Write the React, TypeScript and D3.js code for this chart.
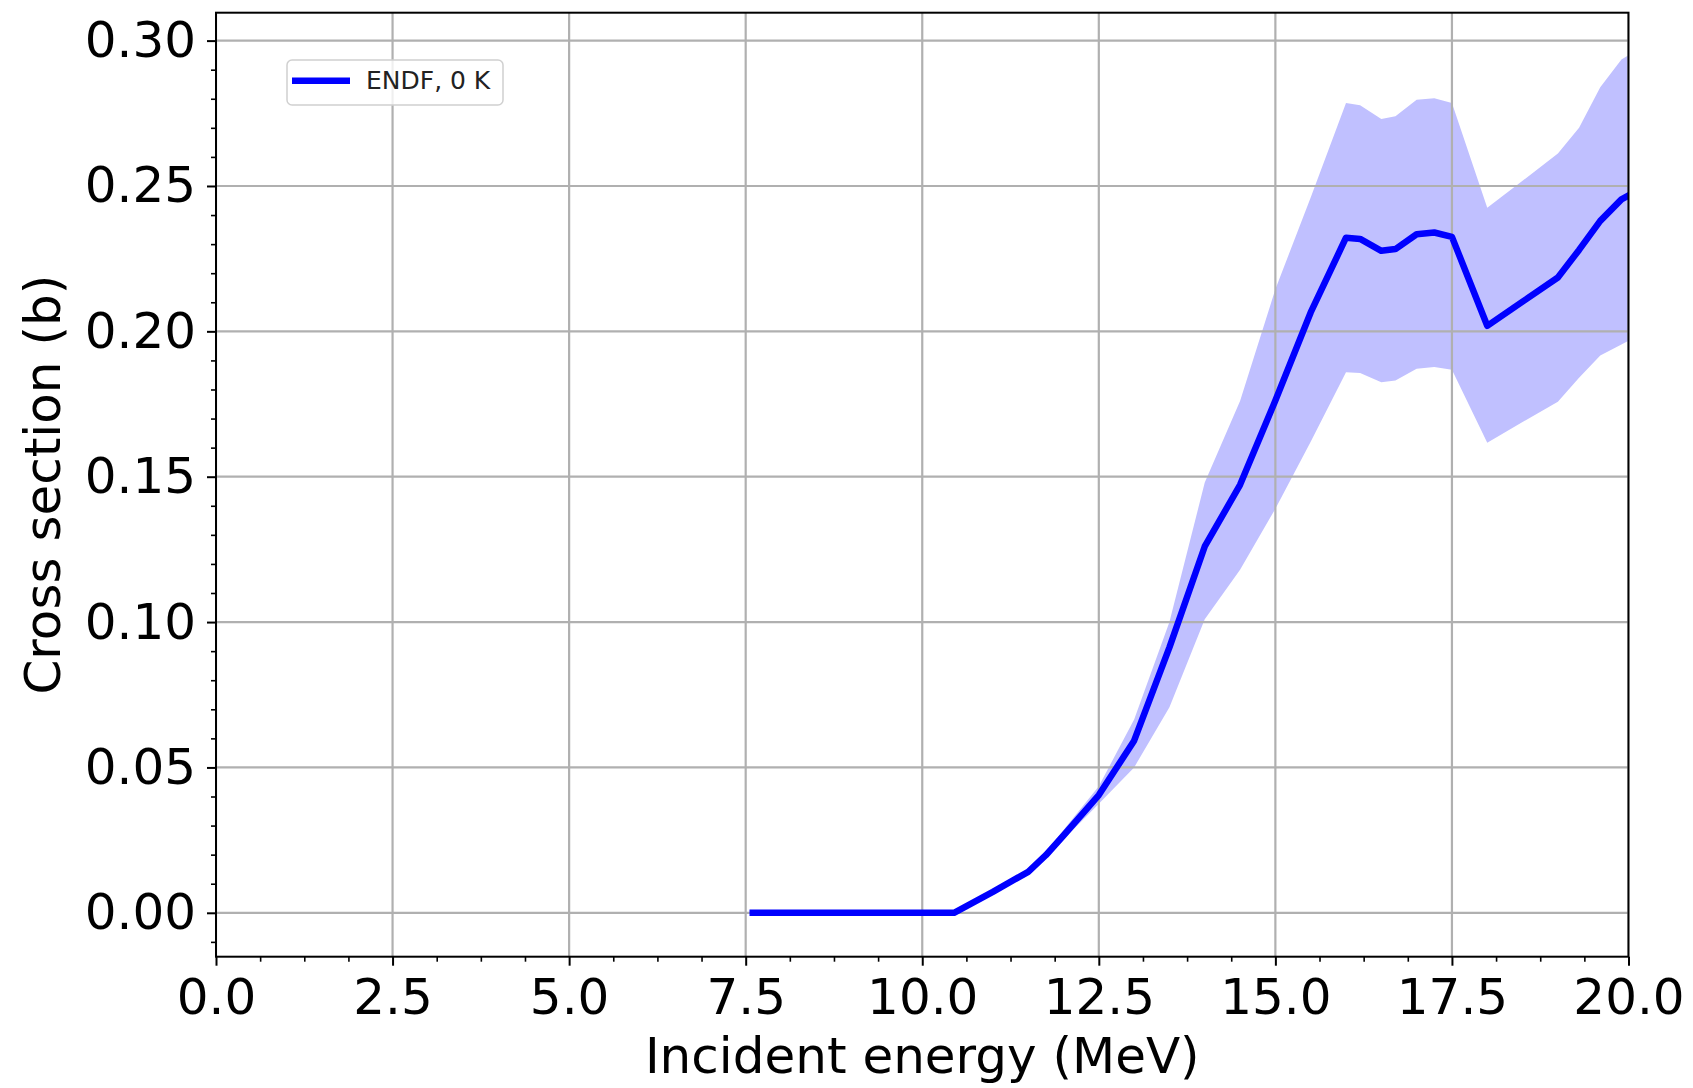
import React, { useEffect, useRef } from 'react';
import * as d3 from 'd3';

// incident energy (MeV) and cross section (b)
const energy = [7.6, 10.0, 10.45, 11.0, 11.5, 11.75, 12.0, 12.5, 13.0, 13.5, 14.0, 14.5, 15.0, 15.5, 16.0, 16.2, 16.5, 16.7, 17.0, 17.25, 17.5, 18.0, 18.5, 19.0, 19.3, 19.6, 19.9, 20.0];
const xsMean = [0, 0, 0, 0.0072, 0.0141, 0.0198, 0.0266, 0.0405, 0.0592, 0.0913, 0.126, 0.1472, 0.1762, 0.2065, 0.2322, 0.2318, 0.2277, 0.2283, 0.2334, 0.234, 0.2325, 0.2019, 0.2102, 0.2185, 0.228, 0.238, 0.2454, 0.2467];
const xsUpper = [0, 0, 0, 0.0074, 0.0146, 0.0208, 0.0285, 0.0435, 0.0665, 0.1, 0.148, 0.176, 0.2145, 0.246, 0.2785, 0.2778, 0.273, 0.274, 0.2797, 0.2802, 0.2785, 0.2425, 0.2518, 0.2612, 0.27, 0.284, 0.2935, 0.295];
const xsLower = [0, 0, 0, 0.007, 0.0136, 0.0188, 0.0252, 0.0375, 0.05, 0.0707, 0.101, 0.118, 0.139, 0.162, 0.1859, 0.1857, 0.1825, 0.1831, 0.1871, 0.1877, 0.1868, 0.1617, 0.1688, 0.1758, 0.184, 0.1917, 0.1955, 0.1968];

const xTicks = [0, 2.5, 5, 7.5, 10, 12.5, 15, 17.5, 20];
const yTicks = [0, 0.05, 0.1, 0.15, 0.2, 0.25, 0.3];
const legendLabel = 'ENDF, 0 K';

const width = 1693;
const height = 1088;
const margin = { top: 12.7, right: 64.5, bottom: 131.3, left: 216 };
const font = 'DejaVu Sans, sans-serif';

function App() {
  const ref = useRef<SVGSVGElement>(null);

  useEffect(() => {
    const svg = d3.select(ref.current);
    svg.selectAll('*').remove();

    const x = d3.scaleLinear().domain([0, 20]).range([margin.left, width - margin.right]);
    const y = d3.scaleLinear().domain([-0.0151, 0.3096]).range([height - margin.bottom, margin.top]);

    const data = energy.map((e, i) => ({ e, m: xsMean[i], lo: xsLower[i], hi: xsUpper[i] }));

    svg.append('defs').append('clipPath').attr('id', 'plot-clip')
      .append('rect')
      .attr('x', margin.left).attr('y', margin.top)
      .attr('width', width - margin.left - margin.right)
      .attr('height', height - margin.top - margin.bottom);

    svg.append('rect').attr('width', width).attr('height', height).attr('fill', 'white');

    const plot = svg.append('g').attr('clip-path', 'url(#plot-clip)');

    // uncertainty band
    const band = d3.area<any>().x(d => x(d.e)).y0(d => y(d.lo)).y1(d => y(d.hi));
    plot.append('path').datum(data).attr('d', band).attr('fill', '#c0c0ff').attr('stroke', 'none');

    // grid sits over the band, under the line
    plot.selectAll('.gx').data(xTicks).enter().append('line')
      .attr('x1', d => x(d)).attr('x2', d => x(d))
      .attr('y1', margin.top).attr('y2', height - margin.bottom)
      .attr('stroke', '#b0b0b0').attr('stroke-width', 2.2);
    plot.selectAll('.gy').data(yTicks).enter().append('line')
      .attr('y1', d => y(d)).attr('y2', d => y(d))
      .attr('x1', margin.left).attr('x2', width - margin.right)
      .attr('stroke', '#b0b0b0').attr('stroke-width', 2.2);

    const line = d3.line<any>().x(d => x(d.e)).y(d => y(d.m));
    plot.append('path').datum(data).attr('d', line)
      .attr('fill', 'none').attr('stroke', '#0000ff')
      .attr('stroke-width', 6.5).attr('stroke-linejoin', 'round').attr('stroke-linecap', 'square');

    // minor ticks
    const xMinor = d3.range(0, 20.001, 0.625).filter(v => !xTicks.some(t => Math.abs(t - v) < 1e-6));
    const yMinor = d3.range(-0.01, 0.3001, 0.01).filter(v => !yTicks.some(t => Math.abs(t - v) < 1e-6));

    svg.append('g')
      .attr('transform', `translate(0,${height - margin.bottom})`)
      .call(d3.axisBottom(x).tickValues(xMinor).tickSize(5).tickFormat(() => ''))
      .call(g => g.select('.domain').remove())
      .selectAll('line').attr('stroke', '#000').attr('stroke-width', 1.6);
    svg.append('g')
      .attr('transform', `translate(${margin.left},0)`)
      .call(d3.axisLeft(y).tickValues(yMinor).tickSize(5).tickFormat(() => ''))
      .call(g => g.select('.domain').remove())
      .selectAll('line').attr('stroke', '#000').attr('stroke-width', 1.6);

    const xAxis = svg.append('g')
      .attr('transform', `translate(0,${height - margin.bottom})`)
      .call(d3.axisBottom(x).tickValues(xTicks).tickSize(9).tickPadding(13).tickFormat(d3.format('.1f')));
    xAxis.select('.domain').remove();
    xAxis.selectAll('line').attr('stroke', '#000').attr('stroke-width', 2);
    xAxis.selectAll('text').attr('font-family', font).attr('font-size', 50).attr('fill', '#000');

    const yAxis = svg.append('g')
      .attr('transform', `translate(${margin.left},0)`)
      .call(d3.axisLeft(y).tickValues(yTicks).tickSize(9).tickPadding(11).tickFormat(d3.format('.2f')));
    yAxis.select('.domain').remove();
    yAxis.selectAll('line').attr('stroke', '#000').attr('stroke-width', 2);
    yAxis.selectAll('text').attr('font-family', font).attr('font-size', 50).attr('fill', '#000');

    // frame
    svg.append('rect')
      .attr('x', margin.left).attr('y', margin.top)
      .attr('width', width - margin.left - margin.right)
      .attr('height', height - margin.top - margin.bottom)
      .attr('fill', 'none').attr('stroke', '#000').attr('stroke-width', 2);

    svg.append('text')
      .attr('x', (margin.left + width - margin.right) / 2)
      .attr('y', 1073)
      .attr('text-anchor', 'middle')
      .attr('font-family', font).attr('font-size', 50)
      .text('Incident energy (MeV)');

    svg.append('text')
      .attr('transform', `translate(60,${(margin.top + height - margin.bottom) / 2}) rotate(-90)`)
      .attr('text-anchor', 'middle')
      .attr('font-family', font).attr('font-size', 50)
      .text('Cross section (b)');

    // legend
    const legend = svg.append('g');
    legend.append('rect')
      .attr('x', 287).attr('y', 60).attr('width', 216).attr('height', 45).attr('rx', 5)
      .attr('fill', 'white').attr('fill-opacity', 0.8)
      .attr('stroke', '#d0d0d0').attr('stroke-width', 1.5);
    legend.append('line')
      .attr('x1', 292).attr('x2', 350).attr('y1', 80.7).attr('y2', 80.7)
      .attr('stroke', '#0000ff').attr('stroke-width', 6.5);
    legend.append('text')
      .attr('x', 366).attr('y', 88.5)
      .attr('font-family', font).attr('font-size', 25).attr('fill', '#222')
      .text(legendLabel);
  }, []);

  return (
    <svg
      ref={ref}
      width={width}
      height={height}
      style={{ position: 'absolute', left: 0, top: 0, display: 'block' }}
    />
  );
}

export default App;
